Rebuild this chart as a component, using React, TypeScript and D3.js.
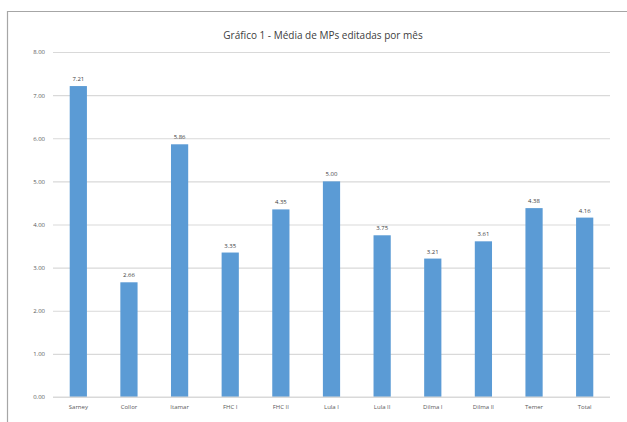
import React, { useEffect, useRef } from "react";
import * as d3 from "d3";

const categories = ["Sarney", "Collor", "Itamar", "FHC I", "FHC II", "Lula I", "Lula II", "Dilma I", "Dilma II", "Temer", "Total"];
const values = [7.21, 2.66, 5.86, 3.35, 4.35, 5.0, 3.75, 3.21, 3.61, 4.38, 4.16];
const yTicks = [0, 1, 2, 3, 4, 5, 6, 7, 8];
const title = "Gráfico 1 - Média de MPs editadas por mês";

const App = (): JSX.Element => {
    const ref = useRef<SVGSVGElement>(null);
    const width = 627;
    const height = 422;
    const margin = { top: 52, right: 17, bottom: 25, left: 53 };

    useEffect(() => {
        if (!ref.current) return;
        const svg = d3.select(ref.current);
        svg.selectAll("*").remove();
        const font = "'Open Sans', 'Liberation Sans', sans-serif";

        svg.append("rect").attr("width", width).attr("height", height).attr("fill", "#fff");

        // frame (top + left visible)
        svg.append("path")
            .attr("d", `M7.5,${height} V11.5 H${width}`)
            .attr("fill", "none")
            .attr("stroke", "#a6a6a6")
            .attr("stroke-width", 1.2);

        const x = d3.scaleBand<string>()
            .domain(categories)
            .range([margin.left, width - margin.right])
            .paddingInner(0.66)
            .paddingOuter(0.33);

        const y = d3.scaleLinear()
            .domain([0, 8])
            .range([height - margin.bottom, margin.top]);

        // grid
        const grid = svg.append("g")
            .attr("transform", `translate(${margin.left},0)`)
            .call(d3.axisLeft(y).tickValues(yTicks).tickSize(-(width - margin.left - margin.right)).tickFormat(() => ""));
        grid.select(".domain").remove();
        grid.selectAll(".tick line").attr("stroke", "#d9d9d9").attr("stroke-width", 1.2);

        // y labels
        const yAxis = svg.append("g")
            .attr("transform", `translate(${margin.left - 5},0)`)
            .call(d3.axisLeft(y).tickValues(yTicks).tickSize(0).tickFormat((d) => (d as number).toFixed(2)));
        yAxis.select(".domain").remove();
        yAxis.selectAll("text")
            .attr("font-family", font)
            .attr("font-size", 6)
            .attr("fill", "#595959");

        // bars
        svg.append("g")
            .selectAll("rect")
            .data(values)
            .join("rect")
            .attr("x", (_, i) => x(categories[i]) as number)
            .attr("width", x.bandwidth())
            .attr("y", (d) => y(d))
            .attr("height", (d) => y(0) - y(d))
            .attr("fill", "#5b9bd5");

        // value labels
        svg.append("g")
            .selectAll("text")
            .data(values)
            .join("text")
            .attr("x", (_, i) => (x(categories[i]) as number) + x.bandwidth() / 2)
            .attr("y", (d) => y(d) - 5)
            .attr("text-anchor", "middle")
            .attr("font-family", font)
            .attr("font-size", 6)
            .attr("fill", "#404040")
            .text((d) => d.toFixed(2));

        // baseline
        svg.append("line")
            .attr("x1", margin.left)
            .attr("x2", width - margin.right)
            .attr("y1", y(0))
            .attr("y2", y(0))
            .attr("stroke", "#d9d9d9")
            .attr("stroke-width", 1.2);

        // x labels
        const xAxis = svg.append("g")
            .attr("transform", `translate(0,${y(0)})`)
            .call(d3.axisBottom(x).tickSize(0).tickPadding(8));
        xAxis.select(".domain").remove();
        xAxis.selectAll("text")
            .attr("font-family", font)
            .attr("font-size", 6)
            .attr("fill", "#595959");

        // title
        svg.append("text")
            .attr("x", 323)
            .attr("y", 39)
            .attr("text-anchor", "middle")
            .attr("font-family", font)
            .attr("font-size", 10)
            .attr("fill", "#404040")
            .text(title);
    }, []);

    return (
        <svg
            ref={ref}
            width={width}
            height={height}
            style={{ position: "absolute", left: 0, top: 0, display: "block" }}
        />
    );
};

export default App;
